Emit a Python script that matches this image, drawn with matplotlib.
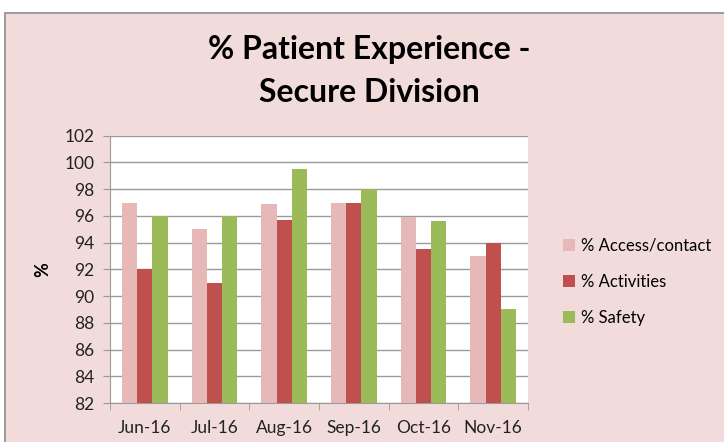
import numpy as np
import matplotlib.pyplot as plt
from matplotlib.patches import Rectangle

# data
months = ["Jun-16", "Jul-16", "Aug-16", "Sep-16", "Oct-16", "Nov-16"]
access_contact = [97.0, 95.0, 96.9, 97.0, 95.9, 93.0]
activities = [92.0, 91.0, 95.7, 97.0, 93.5, 94.0]
safety = [96.0, 96.0, 99.5, 98.0, 95.6, 89.0]
series_names = ["% Access/contact", "% Activities", "% Safety"]
y_ticks = list(range(82, 103, 2))

colors = ["#E6B9B8", "#C0504D", "#9BBB59"]
grid_grey = "#9A9A9A"
plt.rcParams['font.family'] = ['Lato', 'DejaVu Sans']

fig = plt.figure(figsize=(7.24, 4.42), dpi=100)
fig.patch.set_facecolor("white")

# pink chart frame
fig.patches.append(Rectangle((5 / 724, -0.01), 1.0, 1 - 13 / 442 + 0.01,
                             transform=fig.transFigure, facecolor="#F2DCDB",
                             edgecolor="#8C8C8C", linewidth=1.2, zorder=-5))

ax = fig.add_axes([110 / 724, 1 - 403 / 442, 418 / 724, (403 - 135.7) / 442])
ax.set_facecolor("white")
ax.set_zorder(2)

x = np.arange(len(months))
w = 0.22
for i, (vals, name) in enumerate(zip([access_contact, activities, safety], series_names)):
    ax.bar(x + (i - 1) * w, np.array(vals) - 82, width=w, bottom=82,
           color=colors[i], label=name, zorder=3)

ax.set_ylim(82, 102)
ax.set_xlim(-0.5, len(months) - 0.5)
ax.set_yticks(y_ticks)
ax.yaxis.grid(True, color=grid_grey, linewidth=1.0, zorder=0)
ax.set_axisbelow(True)

ax.set_xticks(x)
ax.set_xticklabels(months, fontsize=12.5, color="#222222")
ax.set_xticks(np.arange(-0.5, len(months)), minor=True)
ax.tick_params(axis="x", which="major", length=0, pad=12)
ax.tick_params(axis="x", which="minor", length=5, color=grid_grey)
ax.tick_params(axis="y", labelsize=12.5, labelcolor="#222222", length=5,
               color=grid_grey, pad=6)

for s in ["top", "right"]:
    ax.spines[s].set_visible(False)
for s in ["left", "bottom"]:
    ax.spines[s].set_color(grid_grey)

fig.text(43 / 724, 1 - 270 / 442, "%", rotation=90, ha="center", va="center",
         fontsize=13, fontweight="bold")

fig.text(369 / 724, 1 - 71 / 442, "% Patient Experience -\nSecure Division",
         ha="center", va="center", fontsize=23, fontweight="bold",
         linespacing=1.55)

ax.legend(loc="center left", bbox_to_anchor=(548 / 724, 1 - 282 / 442),
          bbox_transform=fig.transFigure, frameon=False, fontsize=12,
          handlelength=0.7, handleheight=0.7, handletextpad=0.4,
          labelspacing=1.2)

fig.savefig("out.png", dpi=100, facecolor=fig.get_facecolor())
